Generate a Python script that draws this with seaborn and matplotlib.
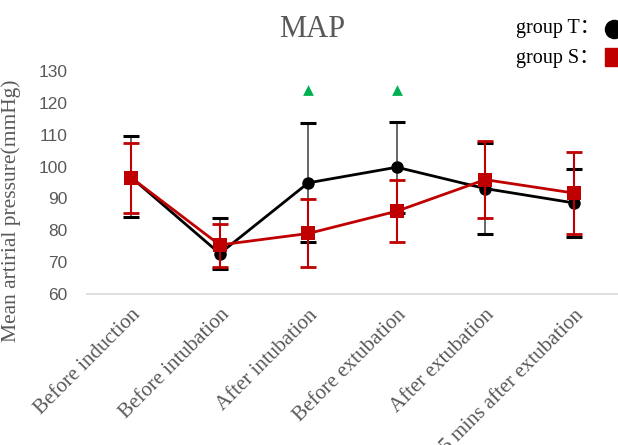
import matplotlib
matplotlib.use("Agg")
import matplotlib.pyplot as plt
from matplotlib.lines import Line2D
import seaborn as sns
import pandas as pd

# Time points of the measurement
stages = ["Before induction", "Before intubation", "After intubation",
          "Before extubation", "After extubation", "5 mins after extubation"]

# Group T: mean MAP and error bar extents (mmHg)
t_mean = [96.6, 72.7, 94.9, 99.8, 93.1, 88.6]
t_err_low = [12.4, 5.0, 18.7, 14.3, 14.3, 10.6]
t_err_high = [12.9, 11.2, 18.9, 14.3, 14.4, 10.6]

# Group S: mean MAP and error bar extents (mmHg)
s_mean = [96.5, 75.4, 79.0, 86.0, 95.9, 91.7]
s_err_low = [11.1, 6.8, 10.4, 9.8, 12.0, 12.9]
s_err_high = [10.8, 6.5, 10.9, 9.8, 12.0, 12.8]

# Significance markers (stages with a difference between groups)
sig_stages = ["After intubation", "Before extubation"]
sig_level = 124

T_COLOR = "#000000"
S_COLOR = "#C00000"
TEXT_GRAY = "#595959"
SERIF = ["Liberation Serif", "Noto Sans CJK SC", "DejaVu Serif"]

sns.set_theme(style="white")
plt.rcParams["font.family"] = ["Liberation Sans", "DejaVu Sans"]

df = pd.DataFrame({
    "stage": stages * 2,
    "pos": list(range(len(stages))) * 2,
    "map": t_mean + s_mean,
    "group": ["T"] * len(stages) + ["S"] * len(stages),
})

fig = plt.figure(figsize=(6.18, 4.45), dpi=100)
ax = fig.add_axes([0.1408, 0.3393, 0.8592, 0.5011])

x = list(range(len(stages)))

# Group T error bars and line
ax.errorbar(x, t_mean, yerr=[t_err_low, t_err_high], fmt="none",
            ecolor="#4d4d4d", elinewidth=1.2, capsize=0, zorder=2)
ax.errorbar(x, [m + h for m, h in zip(t_mean, t_err_high)], yerr=None, fmt="_",
            color=T_COLOR, markersize=12, markeredgewidth=2.2, zorder=2)
ax.errorbar(x, [m - l for m, l in zip(t_mean, t_err_low)], yerr=None, fmt="_",
            color=T_COLOR, markersize=12, markeredgewidth=2.2, zorder=2)
sns.lineplot(data=df[df.group == "T"], x="pos", y="map", color=T_COLOR,
             linewidth=2, marker="o", markersize=9, markeredgewidth=0,
             ax=ax, zorder=3)

# Group S error bars and line
ax.errorbar(x, s_mean, yerr=[s_err_low, s_err_high], fmt="none",
            ecolor=S_COLOR, elinewidth=1.5, capsize=6, capthick=2, zorder=4)
sns.lineplot(data=df[df.group == "S"], x="pos", y="map", color=S_COLOR,
             linewidth=2, marker="s", markersize=9.5, markeredgewidth=0,
             ax=ax, zorder=5)

# Significance triangles
sig_x = [stages.index(s) for s in sig_stages]
ax.scatter(sig_x, [sig_level] * len(sig_x), marker="^", s=60,
           color="#00B050", linewidths=0, zorder=6)

ax.set_xlim(-0.5, len(stages) - 0.5)
ax.set_ylim(60, 130)
ax.set_yticks(range(60, 131, 10))
ax.tick_params(axis="y", labelsize=12.5, labelcolor=TEXT_GRAY, length=0, pad=14)
ax.tick_params(axis="x", length=0)
ax.set_xticks(x)
ax.set_xticklabels(stages, rotation=45, ha="right", rotation_mode="anchor",
                   fontsize=15, color=TEXT_GRAY, family=SERIF)
for lab in ax.get_xticklabels():
    lab.set_y(-0.03)

ax.set_xlabel("")
ax.set_ylabel("Mean artirial pressure(mmHg)", fontsize=15.5, color=TEXT_GRAY,
              family=SERIF)
ax.yaxis.set_label_coords(-0.124, 0.372)

for side in ["top", "right", "left"]:
    ax.spines[side].set_visible(False)
ax.spines["bottom"].set_color("#D9D9D9")
ax.spines["bottom"].set_linewidth(1.2)
ax.grid(False)
if ax.get_legend() is not None:
    ax.get_legend().remove()

fig.text(0.505, 0.917, "MAP", ha="center", va="baseline", fontsize=22,
         color=TEXT_GRAY, family=SERIF)

# Group key in the upper right corner
fig.text(0.835, 0.926, "group T\uff1a", ha="left", va="baseline", fontsize=14.5,
         color="#000000", family=SERIF)
fig.text(0.835, 0.859, "group S\uff1a", ha="left", va="baseline", fontsize=14.5,
         color="#000000", family=SERIF)
fig.add_artist(Line2D([0.993], [0.935], marker="o", markersize=13,
                      color="#000000", linestyle="none",
                      transform=fig.transFigure))
fig.add_artist(Line2D([0.993], [0.872], marker="s", markersize=13,
                      color=S_COLOR, linestyle="none",
                      transform=fig.transFigure))

fig.savefig("out.png", dpi=100, facecolor="white")
